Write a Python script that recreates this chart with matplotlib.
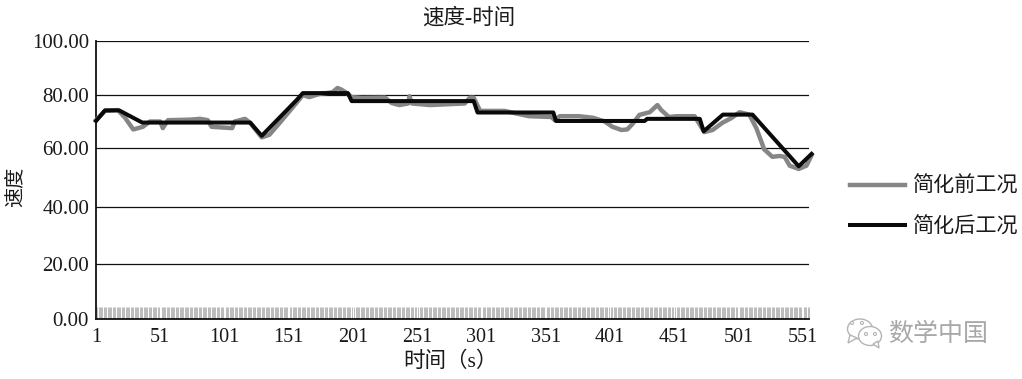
import numpy as np
import matplotlib
matplotlib.use('Agg')
import matplotlib.pyplot as plt
from matplotlib.patches import Ellipse, Polygon

plt.rcParams['font.family'] = ['Liberation Serif', 'Noto Sans CJK SC', 'DejaVu Sans']

title = '速度-时间'
x_label = '时间（s）'
y_label = '速度'
label_before = '简化前工况'
label_after = '简化后工况'
watermark = '数学中国'

x_ticks = [1, 51, 101, 151, 201, 251, 301, 351, 401, 451, 501, 551]
y_ticks = [0, 20, 40, 60, 80, 100]
# the gridlines in the scan are not evenly spaced, heights in pixels above the x axis
y_tick_heights = [0, 55, 112, 171, 224, 278]

before_x = [1, 8, 18, 23.5, 30, 37.5, 43, 51, 53, 57, 74, 82, 88, 91, 107, 109, 117, 121, 130, 136,
            144, 157, 162, 167, 175, 185, 189, 192, 197, 200, 208, 226, 231, 237, 244, 245, 247, 261,
            288, 292, 295, 296.5, 300, 319, 338, 355.5, 358, 362, 377, 388, 397, 403, 410, 414.5,
            418.5, 424, 432, 438, 441, 447, 453, 467, 472, 474.5, 481, 488.5, 495.6, 502, 509.5,
            515, 519, 521, 527.5, 533, 537, 541, 548, 554, 558]
before_y = [70.5, 74, 74.3, 71.5, 67, 68, 70, 70, 67.5, 70.5, 70.7, 71, 70.5, 68, 67.5, 70, 71, 69.5, 64, 65,
            69.5, 77, 80, 79.2, 80.4, 81, 82.6, 82, 80.5, 79.2, 78.9, 79, 77, 76.2, 76.8, 79.5, 76.8, 76.2,
            76.8, 79, 79, 77.5, 74, 74, 72, 71.7, 70.5, 72, 72, 71.4, 70, 68, 66.8, 67,
            69, 72.5, 73.5, 76.2, 74.3, 71.7, 72, 72, 68, 66, 66.8, 69.5, 71.3, 73.5, 72.6,
            67.5, 62.3, 59.6, 57, 57.3, 57, 54, 52.9, 54, 57.5]

after_x = [1, 8, 19, 37, 121, 130, 157, 162, 197, 200, 295, 298, 357, 359, 428, 430, 471, 474, 489, 512, 548, 558]
after_y = [70.2, 74.2, 74.2, 69.6, 69.6, 64.6, 78, 80.7, 80.7, 77.7, 77.7, 73.4, 73.4, 70.2, 70.2, 71, 71, 66.3, 72.6, 72.6, 53.8, 58]


def to_height(v):
    return np.interp(v, y_ticks, y_tick_heights)


def from_height(h):
    return np.interp(h, y_tick_heights, y_ticks)


fig = plt.figure(figsize=(10.22, 3.79), dpi=100)
ax = fig.add_axes([96 / 1022, 1 - 319 / 379, (809 - 96) / 1022, 278 / 379])
ax.set_yscale('function', functions=(to_height, from_height))
ax.set_xlim(1, 556)
ax.set_ylim(0, 100)

line_before, = ax.plot(before_x, before_y, color='#868686', lw=3.2, label=label_before, zorder=3, clip_on=False)
line_after, = ax.plot(after_x, after_y, color='#0a0a0a', lw=2.9, label=label_after, zorder=4, clip_on=False)

ax.set_yticks(y_ticks)
ax.set_yticks([], minor=True)
ax.set_yticklabels(['%.2f' % v for v in y_ticks], fontsize=15, color='#1a1a1a')
ax.set_xticks(x_ticks)
ax.set_xticklabels([str(v) for v in x_ticks], fontsize=14.5, color='#1a1a1a')
ax.set_xticks(np.arange(1, 557), minor=True)
ax.tick_params(axis='x', which='major', length=0, pad=6.5)
ax.tick_params(axis='x', which='minor', direction='in', length=9, width=0.6, color='#b0b0b0')
ax.tick_params(axis='y', length=0, pad=5)
ax.grid(axis='y', color='#111111', lw=0.9)
ax.set_axisbelow(True)
for side in ['top', 'right']:
    ax.spines[side].set_visible(False)
for side in ['left', 'bottom']:
    ax.spines[side].set_linewidth(1.3)
    ax.spines[side].set_color('#111111')

fig.text(469 / 1022, 1 - 18 / 379, title, fontsize=15.5, ha='center', va='center', color='#1a1a1a')
fig.text(450 / 1022, 1 - 362 / 379, x_label, fontsize=15.5, ha='center', va='center', color='#1a1a1a')
fig.text(16 / 1022, 1 - 187 / 379, y_label, fontsize=14.5, ha='center', va='center', rotation=90, color='#1a1a1a')

ax.legend(handles=[line_before, line_after], loc='center left', frameon=False,
          bbox_to_anchor=(850 / 1022, 1 - 207 / 379), bbox_transform=fig.transFigure,
          fontsize=15.2, handlelength=2.6, handletextpad=0.38, labelspacing=0.95,
          labelcolor='#1a1a1a', borderpad=0, borderaxespad=0)

# watermark: the two chat bubbles and the account name
fig.text(938 / 1022, 1 - 334 / 379, watermark, fontsize=18, ha='center', va='center', color='#a8a8a8')
overlay = fig.add_axes([0, 0, 1, 1], facecolor='none')
overlay.set_xlim(0, 1022)
overlay.set_ylim(379, 0)
overlay.axis('off')
overlay.add_patch(Ellipse((860, 329), 25, 20, fc='white', ec='#b4b4b4', lw=1))
overlay.add_patch(Polygon([(850, 335), (848, 343), (857, 338)], closed=True, fc='white', ec='#b4b4b4', lw=1))
overlay.add_patch(Ellipse((870, 336), 23, 19, fc='white', ec='#b4b4b4', lw=1))
overlay.add_patch(Polygon([(873, 344), (879, 348), (878, 341)], closed=True, fc='white', ec='#b4b4b4', lw=1))
for px, py in [(852, 323), (862, 323), (866, 334), (875, 334)]:
    overlay.add_patch(Ellipse((px, py), 3, 3, fc='white', ec='#b4b4b4', lw=0.8))

fig.savefig('out.png', dpi=100)
plt.close(fig)
